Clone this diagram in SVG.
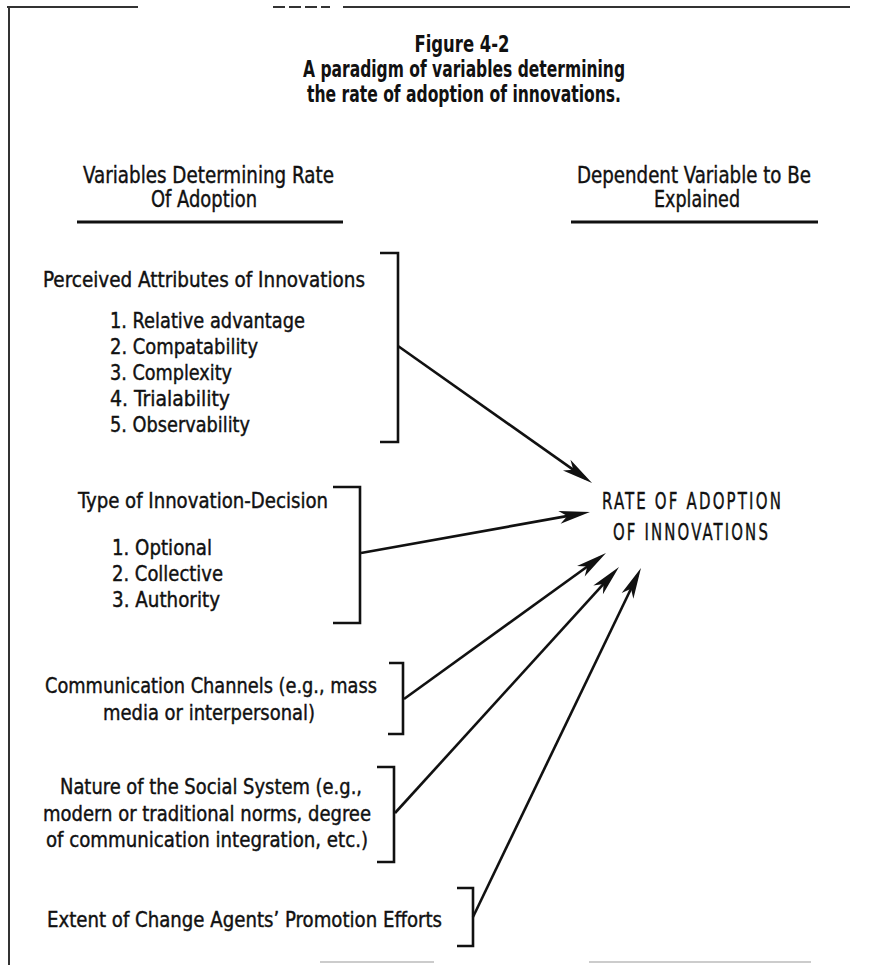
<svg xmlns="http://www.w3.org/2000/svg" width="892" height="965" viewBox="0 0 892 965">
<style>
  text { font-family: "Liberation Sans Narrow", "DejaVu Sans Condensed", "Liberation Sans", sans-serif; fill: #111; }
  .title { font-size: 23px; font-weight: bold; text-anchor: middle; }
  .head { font-size: 23px; stroke: #111; stroke-width: 0.4; }
  .body { font-size: 21px; stroke: #111; stroke-width: 0.4; }
  .target { font-size: 23px; letter-spacing: 3px; stroke: #111; stroke-width: 0.4; }
  .bracket { fill: none; stroke: #111; stroke-width: 2.6; }
  .rule { stroke: #111; stroke-width: 3; }
  .border { stroke: #333; stroke-width: 2; fill: none; }
  .conn line { stroke: #111; stroke-width: 2.6; marker-end: url(#ah); }
</style>
<defs>
  <marker id="ah" markerUnits="userSpaceOnUse" markerWidth="34" markerHeight="16" viewBox="-24 -8 34 16" refX="0" refY="0" orient="auto">
    <path d="M8,0 L-23,-6.5 L-15,0 L-23,6.5 Z" fill="#111"/>
  </marker>
</defs>
<rect x="0" y="0" width="892" height="965" fill="#fff"/>

<g id="page-border">
  <path class="border" d="M9,8 V965"/>
  <path class="border" d="M7,7 H138"/>
  <path class="border" d="M273,7 H330" stroke-dasharray="12,4"/>
  <path class="border" d="M343,7 H850"/>
  <path d="M320,962 H434 M589,962 H811" stroke="#ccc" stroke-width="2"/>
</g>

<g id="title">
  <text class="title" x="462" y="52" textLength="95" lengthAdjust="spacingAndGlyphs">Figure 4-2</text>
  <text class="title" x="464" y="77" textLength="322" lengthAdjust="spacingAndGlyphs">A paradigm of variables determining</text>
  <text class="title" x="464" y="102" textLength="314" lengthAdjust="spacingAndGlyphs">the rate of adoption of innovations.</text>
</g>

<g id="header-left">
  <text class="head" x="83" y="183" textLength="251" lengthAdjust="spacingAndGlyphs">Variables Determining Rate</text>
  <text class="head" x="151" y="207" textLength="106" lengthAdjust="spacingAndGlyphs">Of Adoption</text>
  <line class="rule" x1="77" y1="222" x2="343" y2="222"/>
</g>

<g id="header-right">
  <text class="head" x="577" y="183" textLength="234" lengthAdjust="spacingAndGlyphs">Dependent Variable to Be</text>
  <text class="head" x="654" y="207" textLength="86" lengthAdjust="spacingAndGlyphs">Explained</text>
  <line class="rule" x1="571" y1="222" x2="818" y2="222"/>
</g>

<g id="node-attributes">
  <text class="body" x="43" y="287" textLength="322" lengthAdjust="spacingAndGlyphs">Perceived Attributes of Innovations</text>
  <text class="body" x="110" y="328" textLength="195" lengthAdjust="spacingAndGlyphs">1. Relative advantage</text>
  <text class="body" x="110" y="354" textLength="148" lengthAdjust="spacingAndGlyphs">2. Compatability</text>
  <text class="body" x="110" y="380" textLength="122" lengthAdjust="spacingAndGlyphs">3. Complexity</text>
  <text class="body" x="110" y="406" textLength="120" lengthAdjust="spacingAndGlyphs">4. Trialability</text>
  <text class="body" x="110" y="432" textLength="140" lengthAdjust="spacingAndGlyphs">5. Observability</text>
  <path class="bracket" d="M380,253 H398 V442 H380"/>
</g>

<g id="node-decision">
  <text class="body" x="78" y="508" textLength="250" lengthAdjust="spacingAndGlyphs">Type of Innovation-Decision</text>
  <text class="body" x="112" y="555" textLength="100" lengthAdjust="spacingAndGlyphs">1. Optional</text>
  <text class="body" x="112" y="581" textLength="111" lengthAdjust="spacingAndGlyphs">2. Collective</text>
  <text class="body" x="112" y="607" textLength="108" lengthAdjust="spacingAndGlyphs">3. Authority</text>
  <path class="bracket" d="M333,487 H360 V623 H333"/>
</g>

<g id="node-channels">
  <text class="body" x="45" y="693" textLength="332" lengthAdjust="spacingAndGlyphs">Communication Channels (e.g., mass</text>
  <text class="body" x="103" y="720" textLength="212" lengthAdjust="spacingAndGlyphs">media or interpersonal)</text>
  <path class="bracket" d="M389,663 H403 V734 H388"/>
</g>

<g id="node-social-system">
  <text class="body" x="60" y="794" textLength="302" lengthAdjust="spacingAndGlyphs">Nature of the Social System (e.g.,</text>
  <text class="body" x="43" y="821" textLength="328" lengthAdjust="spacingAndGlyphs">modern or traditional norms, degree</text>
  <text class="body" x="46" y="847" textLength="322" lengthAdjust="spacingAndGlyphs">of communication integration, etc.)</text>
  <path class="bracket" d="M377,767 H394 V862 H377"/>
</g>

<g id="node-change-agents">
  <text class="body" x="47" y="927" textLength="395" lengthAdjust="spacingAndGlyphs">Extent of Change Agents’ Promotion Efforts</text>
  <path class="bracket" d="M457,888 H473 V946 H457"/>
</g>

<g id="node-rate">
  <text class="target" x="602" y="509" textLength="181" lengthAdjust="spacingAndGlyphs">RATE OF ADOPTION</text>
  <text class="target" x="613" y="540" textLength="157" lengthAdjust="spacingAndGlyphs">OF INNOVATIONS</text>
</g>

<g id="connectors" class="conn">
  <line x1="398" y1="346" x2="585.5" y2="478.4"/>
  <line x1="361" y1="553" x2="582.1" y2="513.4"/>
  <line x1="404" y1="699" x2="599.5" y2="557.7"/>
  <line x1="395" y1="813" x2="613.6" y2="572.9"/>
  <line x1="473" y1="917" x2="637.5" y2="575.2"/>
</g>
</svg>
